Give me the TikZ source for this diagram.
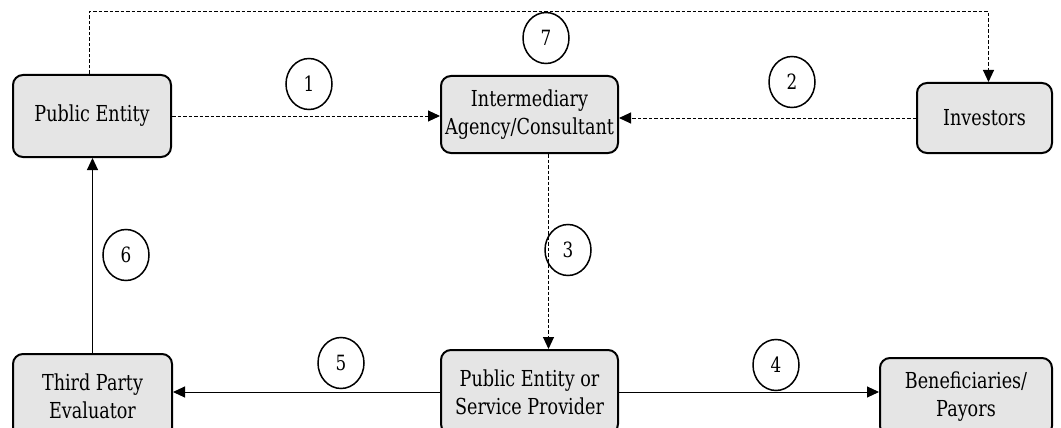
\documentclass[tikz,border=0pt]{standalone}
\usepackage{fontspec}
\setmainfont{DejaVu Serif}[FakeStretch=0.8]
\usetikzlibrary{arrows.meta,shapes.geometric,positioning}
\tikzset{
  party/.style={draw,line width=2pt,rounded corners=10pt,fill=gray!20,align=center,inner sep=0pt,font=\fontsize{22}{28}\selectfont},
  stepno/.style={ellipse,draw,line width=1.5pt,minimum width=46pt,minimum height=51pt,inner sep=0pt,font=\fontsize{21}{22}\selectfont},
  flow/.style={-{Triangle[length=12pt,width=11pt]},line width=1pt},
  cash/.style={flow,dash pattern=on 3.5pt off 2pt}
}

\begin{document}
\begin{tikzpicture}[x=1pt,y=-1pt]

    \useasboundingbox (0,0) rectangle (1061,428);

    % boxes
    \node[party,minimum width=158pt,minimum height=82pt] (pub) at (92,116) {Public Entity};
    \node[party,minimum width=177pt,minimum height=77pt] (agency) at (529.5,114.5) {Intermediary\\Agency/Consultant};
    \node[party,minimum width=135pt,minimum height=70pt] (inv) at (984.5,118) {Investors};
    \node[party,minimum width=177pt,minimum height=84pt] (prov) at (529.5,392) {Public Entity or\\Service Provider};
    \node[party,minimum width=159pt,minimum height=84pt] (eval) at (92.5,396) {Third Party\\Evaluator};
    \node[party,minimum width=172pt,minimum height=78pt] (benef) at (966,397) {Beneficiaries/\\Payors};

    % arrows
    \coordinate (top) at (0,12);
    \draw[cash] % 1
      (pub.east) -- (pub.east -| agency.west);
    \draw[cash] % 2
      (inv.west) -- (inv.west -| agency.east);
    \draw[cash] % 3
      ([xshift=19pt]agency.south) -- ([xshift=19pt]agency.south |- prov.north);
    \draw[flow] % 4
      (prov.east) -- (prov.east -| benef.west);
    \draw[flow] % 5
      (prov.west) -- (prov.west -| eval.east);
    \draw[flow] % 6
      (eval.north) -- (eval.north |- pub.south);
    \draw[cash] % 7
      ([xshift=-3pt]pub.north) -- ([xshift=-3pt]pub.north |- top) -| ([xshift=4pt]inv.north);

    % step numbers
    \node[stepno] (n1) at (309,84) {1};
    \node[stepno] (n2) at (792,82) {2};
    \node[stepno] (n3) at (568,250) {3};
    \node[stepno] (n4) at (776,365) {4};
    \node[stepno] (n5) at (341,363) {5};
    \node[stepno] (n6) at (126,255) {6};
    \node[stepno] (n7) at (546,38) {7};

\end{tikzpicture}
\end{document}
